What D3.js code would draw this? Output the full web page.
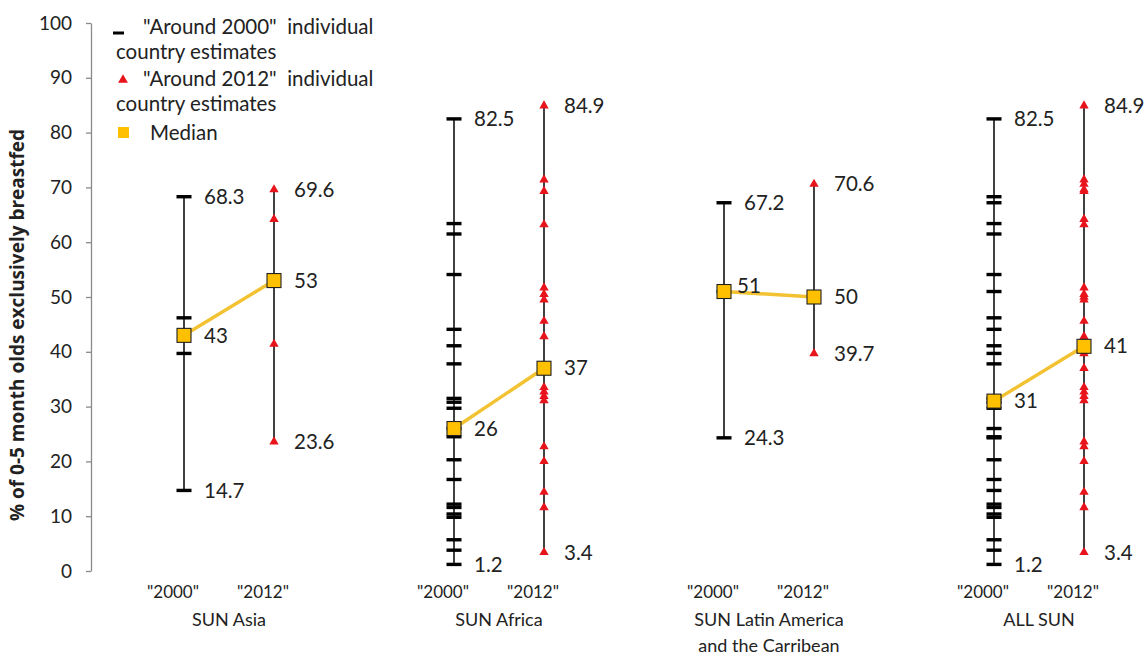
<html>
<head>
<meta charset="utf-8">
<script src="https://d3js.org/d3.v7.min.js"></script>
<style>
  body { margin: 0; background: #fff; }
  text { font-family: Lato, "Open Sans", sans-serif; fill: #222; }
</style>
</head>
<body>
<div id="chart"></div>
<script>
// groups and column names
var groups = ["SUN Asia", "SUN Africa", "SUN Latin America", "ALL SUN"];
var groupLines = [["SUN Asia"], ["SUN Africa"], ["SUN Latin America", "and the Carribean"], ["ALL SUN"]];
var periods = ['"2000"', '"2012"'];

// individual country estimates, "around 2000"
var asia2000 = [68.3, 46.2, 39.7, 14.7];
var africa2000 = [82.5, 63.4, 61.5, 54.1, 44.1, 41.1, 37.8, 31.5, 30.8, 29.7, 26.0, 24.5, 20.3, 16.7, 12.2, 11.6, 10.4, 9.8, 5.7, 3.8, 1.2];
var latam2000 = [67.2, 51.0, 24.3];
var all2000 = [82.5, 68.3, 67.2, 63.4, 61.5, 54.1, 51.0, 46.2, 44.1, 41.1, 39.7, 37.8, 31.5, 30.8, 29.7, 26.0, 24.5, 24.3, 20.3, 16.7, 14.7, 12.2, 11.6, 10.4, 9.8, 5.7, 3.8, 1.2];

// individual country estimates, "around 2012"
var asia2012 = [69.6, 64.2, 41.4, 23.6];
var africa2012 = [84.9, 71.4, 69.3, 63.2, 51.7, 50.5, 49.5, 45.6, 42.8, 37.0, 33.5, 32.7, 31.9, 31.1, 22.7, 20.0, 14.4, 11.6, 3.4];
var latam2012 = [70.6, 50.0, 39.7];
var all2012 = [84.9, 71.4, 70.6, 69.6, 69.3, 64.2, 63.2, 51.7, 50.5, 50.0, 49.5, 45.6, 42.8, 41.4, 39.7, 37.0, 33.5, 32.7, 31.9, 31.1, 23.6, 22.7, 20.0, 14.4, 11.6, 3.4];

var median2000 = [43, 26, 51, 31];
var median2012 = [53, 37, 50, 41];

var yTicks = [0, 10, 20, 30, 40, 50, 60, 70, 80, 90, 100];

var est2000 = [asia2000, africa2000, latam2000, all2000];
var est2012 = [asia2012, africa2012, latam2012, all2012];

var w = 1146, h = 657;
var gold = "#ffc000", red = "#e8141c";

var svg = d3.select("#chart").append("svg")
  .attr("width", w).attr("height", h);

var y = d3.scaleLinear().domain([0, 100]).range([571, 23]);
var xg = d3.scalePoint().domain(groups).range([229, 1039]);
var xc = d3.scalePoint().domain(periods).range([-45, 45]);

function colX(g, p) { return xg(groups[g]) + xc(periods[p]); }

// y axis
var axis = svg.append("g")
  .attr("transform", "translate(91,0)")
  .call(d3.axisLeft(y).tickValues(yTicks).tickSize(5).tickPadding(14).tickSizeOuter(0));
axis.select(".domain").attr("stroke", "#8a8a8a").attr("stroke-width", 1.3);
axis.selectAll(".tick line").attr("stroke", "#8a8a8a").attr("stroke-width", 1.3);
axis.selectAll(".tick text").style("font-size", "19px").style("font-family", "Lato, sans-serif").attr("fill", "#222");

svg.append("text")
  .attr("transform", "translate(24," + 325 + ") rotate(-90)")
  .attr("text-anchor", "middle")
  .style("font-family", "'Open Sans', sans-serif")
  .style("font-size", "19px").style("font-weight", "bold")
  .text("% of 0-5 month olds exclusively breastfed");

var fmt = d3.format(".1f");

groups.forEach(function(gname, g) {
  var sets = [est2000[g], est2012[g]];
  var meds = [median2000[g], median2012[g]];

  sets.forEach(function(vals, p) {
    var cx = colX(g, p);
    var col = svg.append("g");
    col.append("line")
      .attr("x1", cx).attr("x2", cx)
      .attr("y1", y(d3.max(vals))).attr("y2", y(d3.min(vals)))
      .attr("stroke", "#111").attr("stroke-width", 1.6);

    if (p === 0) {
      col.selectAll("rect.est").data(vals).enter().append("rect")
        .attr("x", cx - 7.5).attr("y", function(d) { return y(d) - 1.7; })
        .attr("width", 15).attr("height", 3.4)
        .attr("fill", "#000");
    } else {
      col.selectAll("path.est").data(vals).enter().append("path")
        .attr("d", d3.symbol().type(d3.symbolTriangle).size(38))
        .attr("transform", function(d) { return "translate(" + cx + "," + y(d) + ")"; })
        .attr("fill", red);
    }

    // max / min labels
    [d3.max(vals), d3.min(vals)].forEach(function(v) {
      svg.append("text")
        .attr("x", cx + 20).attr("y", y(v)).attr("dy", "0.35em")
        .style("font-size", "20.5px")
        .text(fmt(v));
    });

    // period label
    svg.append("text")
      .attr("x", cx - 11).attr("y", 598)
      .attr("text-anchor", "middle")
      .style("font-size", "17px")
      .text(periods[p]);
  });

  // median connector
  svg.append("line")
    .attr("x1", colX(g, 0)).attr("y1", y(meds[0]))
    .attr("x2", colX(g, 1)).attr("y2", y(meds[1]))
    .attr("stroke", "#f3c232").attr("stroke-width", 3.5);

  meds.forEach(function(m, p) {
    var cx = colX(g, p);
    svg.append("rect")
      .attr("x", cx - 7).attr("y", y(m) - 7)
      .attr("width", 14).attr("height", 14)
      .attr("fill", gold).attr("stroke", "#222").attr("stroke-width", 1.1);
    var dx = 20, dy = 0;
    if (g === 2 && p === 0) { dx = 13; dy = -6; }
    svg.append("text")
      .attr("x", cx + dx).attr("y", y(m) + dy).attr("dy", "0.35em")
      .style("font-size", "20.5px")
      .text(m);
  });

  // group name
  groupLines[g].forEach(function(line, i) {
    svg.append("text")
      .attr("x", xg(gname)).attr("y", 626 + i * 26)
      .attr("text-anchor", "middle")
      .style("font-size", "18px")
      .text(line);
  });
});

// legend
var lg = svg.append("g").style("font-size", "20.5px");
lg.append("rect").attr("x", 113).attr("y", 31.5).attr("width", 11).attr("height", 3).attr("fill", "#000");
lg.append("text").attr("x", 143).attr("y", 27).attr("dy", "0.35em").style("white-space", "pre")
  .text('"Around 2000"  individual');
lg.append("text").attr("x", 116).attr("y", 52).attr("dy", "0.35em").text("country estimates");
lg.append("path")
  .attr("d", d3.symbol().type(d3.symbolTriangle).size(42))
  .attr("transform", "translate(123,80)").attr("fill", red);
lg.append("text").attr("x", 143).attr("y", 79).attr("dy", "0.35em").style("white-space", "pre")
  .text('"Around 2012"  individual');
lg.append("text").attr("x", 116).attr("y", 104).attr("dy", "0.35em").text("country estimates");
lg.append("rect").attr("x", 118).attr("y", 127).attr("width", 11).attr("height", 11).attr("fill", gold);
lg.append("text").attr("x", 150).attr("y", 133).attr("dy", "0.35em").text("Median");
</script>
</body>
</html>
